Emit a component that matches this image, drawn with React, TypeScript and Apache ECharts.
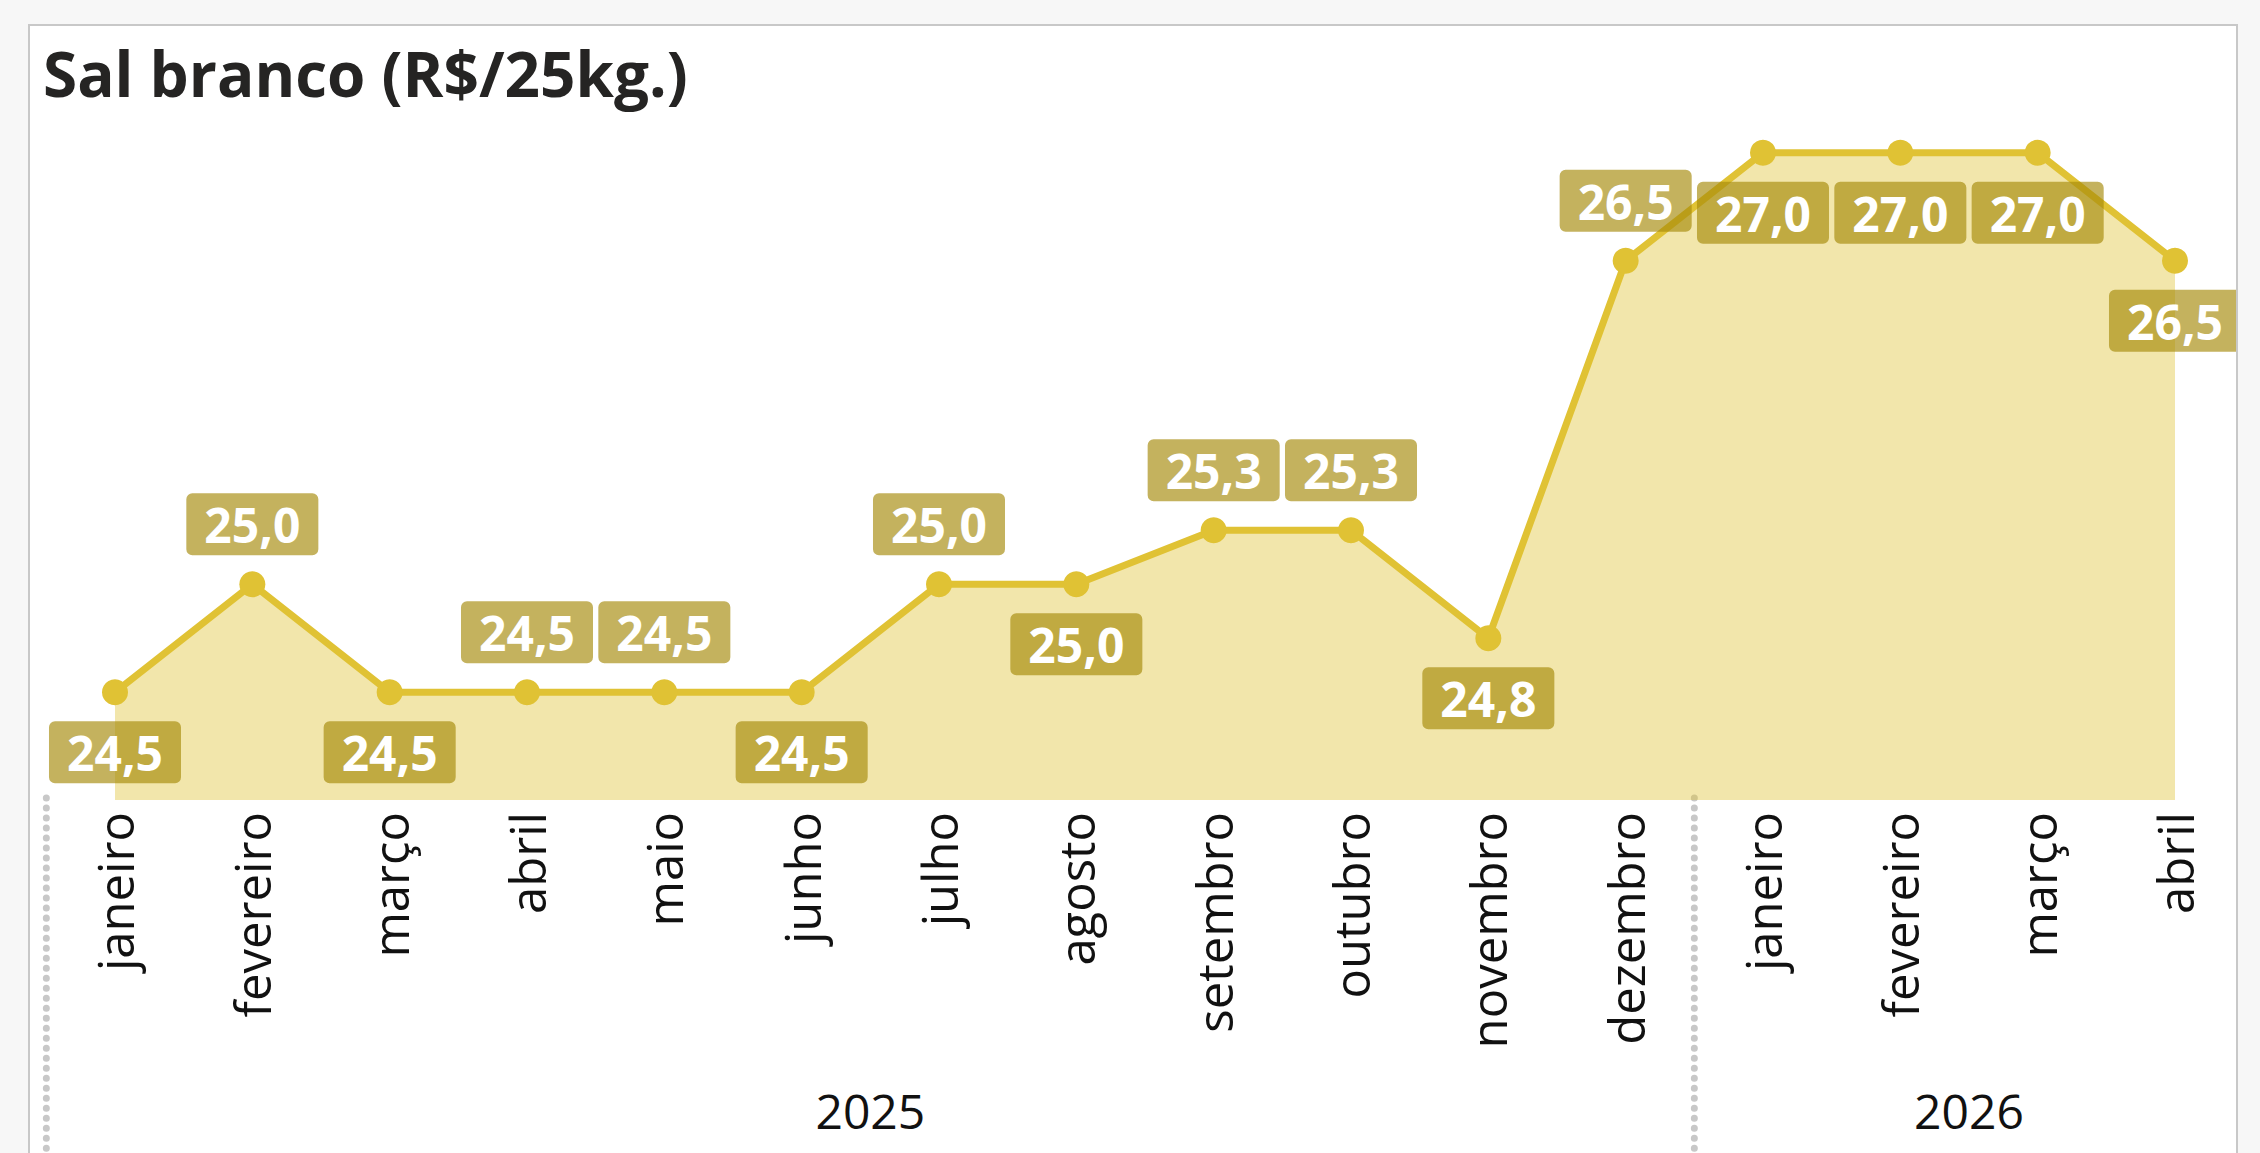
import React, { useEffect, useRef } from "react";
import * as echarts from "echarts";

const titleText = "Sal branco (R$/25kg.)";
const months = [
  "janeiro", "fevereiro", "março", "abril", "maio", "junho", "julho", "agosto",
  "setembro", "outubro", "novembro", "dezembro", "janeiro", "fevereiro", "março", "abril",
];
const monthYears = [
  2025, 2025, 2025, 2025, 2025, 2025, 2025, 2025, 2025, 2025, 2025, 2025,
  2026, 2026, 2026, 2026,
];
const prices = [24.5, 25.0, 24.5, 24.5, 24.5, 24.5, 25.0, 25.0, 25.25, 25.25, 24.75, 26.5, 27.0, 27.0, 27.0, 26.5];
const labelSides = [
  "bottom", "top", "bottom", "top", "top", "bottom", "top", "bottom",
  "top", "top", "bottom", "top", "bottom", "bottom", "bottom", "bottom",
];
const yMin = 24;
const yMax = 27.5;

const FONT = "'Open Sans', 'Noto Sans', sans-serif";
const CHART_W = 2206;
const CHART_H = 1127;

export default function App() {
  const ref = useRef<HTMLDivElement | null>(null);

  useEffect(() => {
    if (!ref.current) return;
    const chart = echarts.init(ref.current, undefined, { renderer: "svg" });
    const categories = months.map((m, i) => `${m}|${monthYears[i]}`);

    chart.setOption({
      animation: false,
      backgroundColor: "transparent",
      title: {
        text: titleText,
        left: 8,
        top: 11,
        textStyle: { fontFamily: FONT, fontWeight: "bold", fontSize: 62, color: "#252423" },
      },
      grid: { left: 85, right: 61, top: 19, bottom: 353, containLabel: false },
      xAxis: {
        type: "category",
        data: categories,
        boundaryGap: false,
        axisLine: { show: false },
        axisTick: { show: false },
        splitLine: { show: false },
        axisLabel: {
          rotate: 90,
          margin: 12,
          interval: 0,
          color: "#111",
          fontFamily: FONT,
          fontSize: 49,
          formatter: (v: string) => v.split("|")[0],
        },
      },
      yAxis: {
        type: "value",
        min: yMin,
        max: yMax,
        show: false,
        splitLine: { show: false },
      },
      series: [
        {
          type: "line",
          data: prices.map((v, i) => ({ value: v, label: { position: labelSides[i] } })),
          symbol: "circle",
          symbolSize: 26,
          showAllSymbol: true,
          lineStyle: { color: "#E0C234", width: 7 },
          itemStyle: { color: "#E0C234" },
          areaStyle: { color: "#E0C234", opacity: 0.41, origin: "start" },
          label: {
            show: true,
            distance: 16,
            formatter: (p: any) => Number(p.value).toFixed(1).replace(".", ","),
            color: "#fff",
            fontFamily: FONT,
            fontWeight: "bold",
            fontSize: 48,
            lineHeight: 51,
            backgroundColor: "rgba(165,138,11,0.66)",
            borderRadius: 6,
            padding: [6, 18, 5, 18],
          },
          emphasis: { disabled: true },
        },
      ],
    });

    const px = (i: number) => chart.convertToPixel({ xAxisIndex: 0 }, i) as number;
    const baseY = chart.convertToPixel({ yAxisIndex: 0 }, yMin) as number;
    const step = px(1) - px(0);
    const groups: { year: number; first: number; last: number }[] = [];
    monthYears.forEach((y, i) => {
      const g = groups[groups.length - 1];
      if (g && g.year === y) g.last = i;
      else groups.push({ year: y, first: i, last: i });
    });
    const elements: any[] = [];
    groups.forEach((g) => {
      const sx = px(g.first) - step / 2;
      elements.push({
        type: "line",
        shape: { x1: sx, y1: baseY - 2, x2: sx, y2: CHART_H + 20 },
        style: { stroke: "#C8C8C8", lineWidth: 7, lineDash: [0.01, 10], lineCap: "round" },
        silent: true,
      });
      elements.push({
        type: "text",
        x: (px(g.first) + px(g.last)) / 2,
        y: 1084,
        style: {
          text: String(g.year),
          fill: "#111",
          font: `48px ${FONT}`,
          align: "center",
          verticalAlign: "middle",
        },
        silent: true,
      });
    });
    chart.setOption({ graphic: { elements } });

    return () => chart.dispose();
  }, []);

  return (
    <div
      style={{
        position: "fixed",
        left: 0,
        top: 0,
        width: 2260,
        height: 1153,
        background: "#F7F7F7",
        overflow: "hidden",
      }}
    >
      <div
        style={{
          position: "absolute",
          left: 28,
          top: 24,
          width: CHART_W,
          height: 1300,
          border: "2px solid #C8C8C8",
          background: "#fff",
          overflow: "hidden",
        }}
      >
        <div ref={ref} style={{ width: CHART_W, height: CHART_H }} />
      </div>
    </div>
  );
}
